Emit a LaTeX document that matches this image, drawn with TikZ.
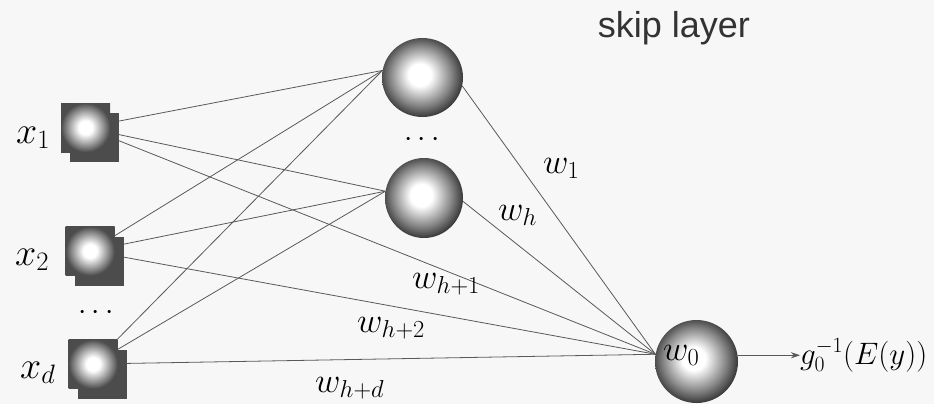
\RequirePackage{fix-cm}
\documentclass[tikz,border=0pt]{standalone}
\usepackage{fontspec}
\newfontfamily\skipfont{Liberation Sans}
\usetikzlibrary{arrows.meta,shapes.geometric}
\pgfdeclarelayer{bg}
\pgfsetlayers{bg,main}
\pgfdeclareradialshading{sqshade}{\pgfpoint{0bp}{0bp}}{color(0bp)=(white); color(7bp)=(white); color(20bp)=(black!50); color(25bp)=(black!70); color(50bp)=(black!72)}
\pgfdeclareradialshading{ballshade}{\pgfpoint{-2bp}{2bp}}{color(0bp)=(white); color(7bp)=(white); color(19bp)=(black!48); color(26bp)=(black!78); color(50bp)=(black!80)}
\begin{document}
\begin{tikzpicture}[x=1pt,y=-1pt,
  insq/.style={rectangle,minimum size=49pt,inner sep=0pt,shading=sqshade},
  shadowsq/.style={rectangle,minimum size=49pt,inner sep=0pt,fill=black!70},
  unit/.style={ellipse,inner sep=0pt,shading=ballshade},
  conn/.style={draw=black!65,line width=0.8pt},
  lab/.style={anchor=base west,inner sep=0pt,font=\fontsize{38}{40}\selectfont},
  wlab/.style={anchor=base west,inner sep=0pt,font=\fontsize{35}{38}\selectfont},
  dotlab/.style={inner sep=0pt,font=\fontsize{30}{32}\selectfont}]
\useasboundingbox (0,0) rectangle (934,404);
% input squares (shadow then front)
\node[shadowsq] (s1) at (94.5,137.5) {};
\node[insq] (x1) at (85.5,127.5) {};
\node[shadowsq] (s2) at (99,261) {};
\node[insq] (x2) at (90,251) {};
\node[shadowsq] (sd) at (102,374) {};
\node[insq] (xd) at (93,364) {};
% input labels
\node[lab] (lx1) at (16,143) {$x_1$};
\node[lab] (lx2) at (15,265) {$x_2$};
\node[lab] (lxd) at (20,378) {$x_d$};
\node[dotlab] (din) at (96,313) {$\cdots$};
% hidden units
\node[unit,minimum width=81pt,minimum height=79pt] (h1) at (422.5,77.5) {};
\node[unit,minimum width=78pt,minimum height=80pt] (h2) at (424,198) {};
\node[dotlab] (dh) at (422,140) {$\cdots$};
% output unit
\node[unit,minimum width=83pt,minimum height=83pt] (out) at (696.5,361.5) {};
\node[wlab] (w0) at (663,360) {$w_0$};
\node[anchor=base west,inner sep=0pt,font=\fontsize{31}{34}\selectfont] (g) at (800,364) {$g_0^{-1}(E(y))$};
\draw[conn,-{Stealth[length=9pt,width=6pt]}] (out.east |- g.west) -- (g.west);
% weight labels
\node[wlab] (w1) at (543,173) {$w_1$};
\node[wlab] (wh) at (498,220) {$w_h$};
\node[wlab] (wh1) at (412,288) {$w_{h+1}$};
\node[wlab] (wh2) at (357,332) {$w_{h+2}$};
\node[wlab] (whd) at (315,392) {$w_{h+d}$};
% skip layer
\node[anchor=base,inner sep=0pt,font=\skipfont\fontsize{36}{40}\selectfont,text=black!80] (skip) at (674,38) {skip layer};
\begin{pgfonlayer}{bg}
\fill[white!97!black] (0,0) rectangle (934,404);
\foreach \i in {x1,x2,xd} {
  \draw[conn] (\i) -- (h1.170);
  \draw[conn] (\i) -- (h2.170);
  \draw[conn] (\i) -- (out.170);
}
\draw[conn] (h1.-12) -- (out.170);
\draw[conn] (h2.-5) -- (out.170);
\end{pgfonlayer}
\end{tikzpicture}
\end{document}
